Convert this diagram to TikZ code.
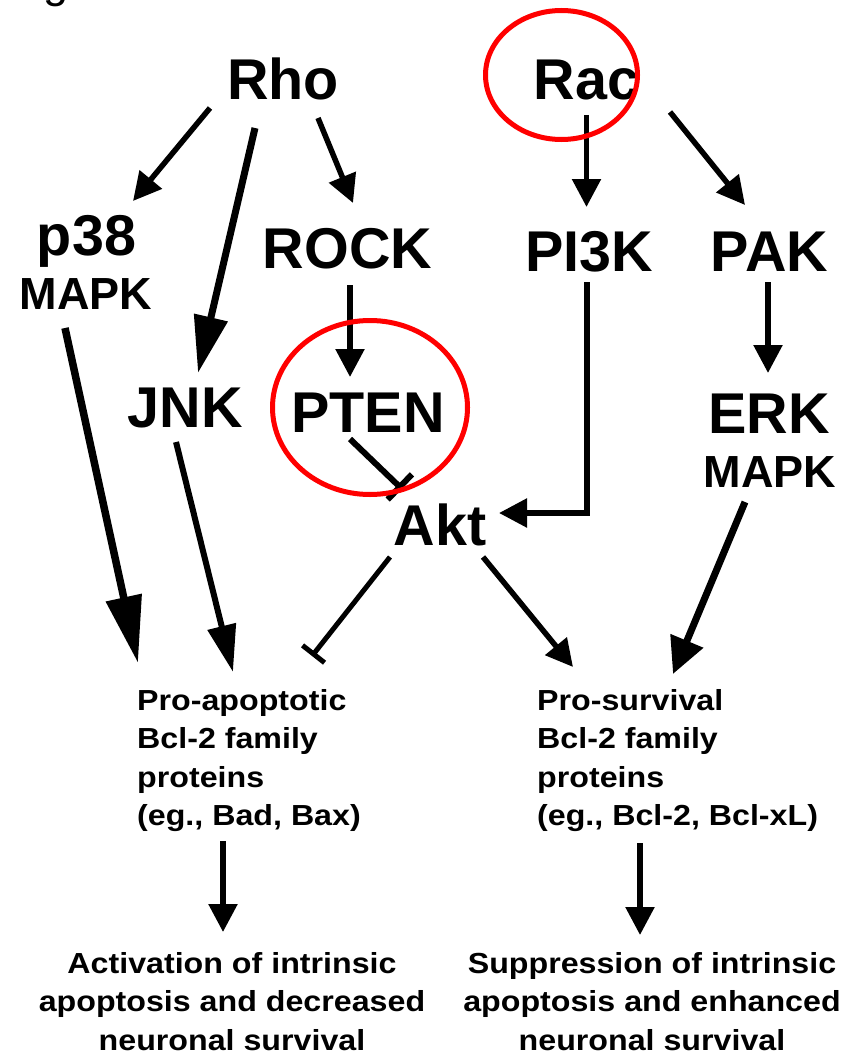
\documentclass[tikz,border=0pt]{standalone}
\usepackage{fontspec}
\setmainfont{Liberation Sans}
\newfontfamily\widesans{Liberation Sans}[FakeStretch=1.11]
\usetikzlibrary{arrows.meta,shapes.geometric,positioning}

\begin{document}
\begin{tikzpicture}[
            x=1pt, y=-1pt,
            every node/.style={inner sep=0pt},
            kinase/.style={font=\bfseries\fontsize{57.5}{60}\selectfont, anchor=base},
            family/.style={font=\bfseries\fontsize{45}{50}\selectfont, anchor=base},
            outcome/.style={font=\widesans\bfseries\fontsize{29}{38.4}\selectfont},
            ring/.style={draw=red, ellipse, line width=5pt},
            act/.style={line width=5.5pt, -{Triangle[length=28pt,width=28pt]}},
            inh/.style={line width=5pt, -{Bar[width=32pt]}}
        ]
        \useasboundingbox (0,0) rectangle (861,1054);

        % Cut-off title %
        \node[font=\fontsize{45}{50}\selectfont, anchor=base] (fig) at (56,-2) {g};

        % Draw GTPases %
        \node[kinase] (rho) at (283,100) {Rho};
        \node[kinase] (rac) at (586.5,100) {Rac};

        % Draw kinases %
        \node[kinase] (p38) at (86.5,255) {p38};
        \node[family] (mapkl) at (86,309) {MAPK};
        \node[kinase] (rock) at (347.5,268) {ROCK};
        \node[kinase] (pi3k) at (589.5,271) {PI3K};
        \node[kinase] (pak) at (769.5,271) {PAK};
        \node[kinase] (jnk) at (185.5,427) {JNK};
        \node[kinase] (pten) at (368,432) {PTEN};
        \node[kinase] (erk) at (769,433) {ERK};
        \node[family] (mapkr) at (770,487) {MAPK};
        \node[kinase] (akt) at (440,545) {Akt};

        % Draw Bcl-2 families %
        \node[outcome, align=left, anchor=north west] (apo) at (137,689)
            {Pro-apoptotic\\Bcl-2 family\\proteins\\(eg., Bad, Bax)};
        \node[outcome, align=left, anchor=north west] (surv) at (537,689)
            {Pro-survival\\Bcl-2 family\\proteins\\(eg., Bcl-2, Bcl-xL)};

        % Draw outcomes %
        \node[outcome, align=center, anchor=north] (death) at (232,952)
            {Activation of intrinsic\\apoptosis and decreased\\neuronal survival};
        \node[outcome, align=center, anchor=north] (life) at (652,952)
            {Suppression of intrinsic\\apoptosis and enhanced\\neuronal survival};

        % Draw arrows %
        \draw[act] ([shift={(-73,8)}]rho.base) -- ([shift={(46.5,-54)}]p38.base);
        \draw[act, line width=7pt, -{Triangle[length=57pt,width=33pt]}] ([shift={(-28,28)}]rho.base) -- ([shift={(12.5,-54)}]jnk.base);
        \draw[act] ([shift={(35,18)}]rho.base) -- ([shift={(5.5,-65)}]rock.base);
        \draw[act] ([shift={(0,15)}]rac.base) -- ([shift={(-3,-64)}]pi3k.base);
        \draw[act] ([shift={(83.5,12)}]rac.base) -- ([shift={(-24.5,-66)}]pak.base);
        \draw[act] ([shift={(2.5,17)}]rock.base) -- ([shift={(-18,-55)}]pten.base);
        \draw[act] ([shift={(-2.5,11)}]pi3k.base) |- ([shift={(59,-32)}]akt.base);
        \draw[act] ([shift={(-1.5,11)}]pak.base) -- ([shift={(-1,-60)}]erk.base);
        \draw[act, line width=7.5pt, -{Triangle[length=67pt,width=35pt]}] ([shift={(-21,19)}]mapkl.base) -- ([shift={(1,-26)}]apo.north west);
        \draw[act, line width=6pt, -{Triangle[length=47pt,width=28pt]}] ([shift={(-9.5,15)}]jnk.base) -- ([shift={(96,-17)}]apo.north west);
        \draw[act, -{Triangle[length=27pt,width=27pt]}] ([shift={(43,12)}]akt.base) -- ([shift={(36,-22)}]surv.north west);
        \draw[act, line width=7pt, -{Triangle[length=36pt,width=34pt]}] ([shift={(-25,15)}]mapkr.base) -- ([shift={(136,-15)}]surv.north west);
        \draw[act] ([shift={(86,152)}]apo.north west) -- ([shift={(-9,-20)}]death.north);
        \draw[act] ([shift={(103,154)}]surv.north west) -- ([shift={(-12,-17)}]life.north);

        % Draw inhibitions %
        \draw[inh, line width=6pt, -{Bar[width=35pt]}] ([shift={(-18,7)}]pten.base) -- ([shift={(-38,-56)}]akt.base);
        \draw[inh, -{Bar[width=28pt]}] ([shift={(-50,12)}]akt.base) -- ([shift={(175,-33)}]apo.north west);

        % Highlight rings %
        \node[ring, minimum width=152pt, minimum height=129pt] (racring) at (561.5,75) {};
        \node[ring, minimum width=195pt, minimum height=174pt] (ptenring) at (370,407.5) {};
\end{tikzpicture}
\end{document}
